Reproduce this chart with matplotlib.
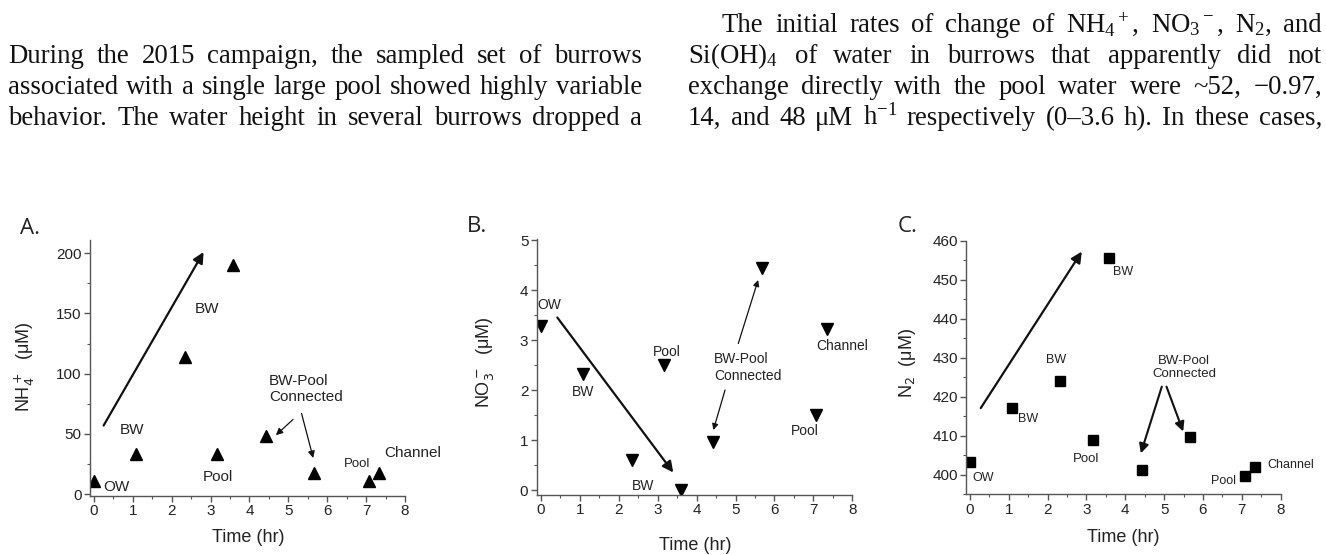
import matplotlib
matplotlib.use("Agg")
import matplotlib.pyplot as plt
from matplotlib.transforms import IdentityTransform
from matplotlib.ticker import MultipleLocator

plt.rcParams['mathtext.fontset'] = 'custom'
plt.rcParams['mathtext.rm'] = 'Liberation Serif'
plt.rcParams['mathtext.it'] = 'Liberation Serif:italic'
plt.rcParams['mathtext.bf'] = 'Liberation Serif:bold'

# ---------------- data ----------------
time_hr = [0.0, 1.08, 2.33, 3.17, 3.59, 4.42, 5.67, 7.08, 7.34]
nh4_uM = [11, 33, 114, 33, 190, 48, 18, 11, 18]
no3_uM = [3.28, 2.33, 0.61, 2.50, 0.0, 0.97, 4.45, 1.51, 3.23]
n2_uM = [403.2, 417.0, 424.0, 408.9, 455.5, 401.3, 409.6, 399.6, 402.1]
x_ticks = [0, 1, 2, 3, 4, 5, 6, 7, 8]
nh4_ticks = [0, 50, 100, 150, 200]
no3_ticks = [0, 1, 2, 3, 4, 5]
n2_ticks = [400, 410, 420, 430, 440, 450, 460]

left_lines = [
    "During the 2015 campaign, the sampled set of burrows",
    "associated with a single large pool showed highly variable",
    "behavior. The water height in several burrows dropped a",
]
right_lines = [
    "The initial rates of change of NH$_4$$^+$, NO$_3$$^-$, N$_2$, and",
    "Si(OH)$_4$ of water in burrows that apparently did not",
    "exchange directly with the pool water were ~52, \u22120.97,",
    "14, and 48 \u03bcM h$^{-1}$ respectively (0\u20133.6 h). In these cases,",
]

W, H = 1326, 555
fig = plt.figure(figsize=(W / 100, H / 100), dpi=100)
fig.patch.set_facecolor('white')
renderer = fig.canvas.get_renderer()

def fx(x):
    return x / W

def fy(y):
    return 1 - y / H

# ---------------- justified body text ----------------
def words_of(line):
    return line.split(' ')

def measure(word, fs):
    t = fig.text(0, 0, word, fontsize=fs, family='Liberation Serif',
                 math_fontfamily='custom', transform=IdentityTransform())
    w = t.get_window_extent(renderer).width
    t.remove()
    return w

base_fs = 18.0
space_em = 0.25
col_w = 634
natural = []
for ln, ind in [(l, 0) for l in left_lines] + [(r, 34 if i == 0 else 0) for i, r in enumerate(right_lines)]:
    ws = words_of(ln)
    tot = sum(measure(w, base_fs) for w in ws) + (len(ws) - 1) * space_em * base_fs * 100 / 72
    natural.append(tot / (col_w - ind))
fs_body = base_fs / max(natural) * 0.985

def justify(lines, x0, x1, baselines, indent_first=0):
    for i, (ln, yb) in enumerate(zip(lines, baselines)):
        ws = words_of(ln)
        start = x0 + (indent_first if i == 0 else 0)
        widths = [measure(w, fs_body) for w in ws]
        gap = (x1 - start - sum(widths)) / (len(ws) - 1)
        x = start
        for w, wd in zip(ws, widths):
            fig.text(x, H - yb, w, fontsize=fs_body, family='Liberation Serif',
                     math_fontfamily='custom', transform=IdentityTransform(),
                     va='baseline', ha='left', color='#111111')
            x += wd + gap

justify(left_lines, 8, 642, [63, 94, 125])
justify(right_lines, 688, 1322, [32, 63, 94, 125], indent_first=34)

# ---------------- panels ----------------
spine_col = '#555555'
txt_col = '#222222'
sans = 'Liberation Sans'

def make_axes(left, right, top, bottom):
    ax = fig.add_axes([fx(left), fy(bottom), fx(right - left), (bottom - top) / H])
    ax.spines['top'].set_visible(False)
    ax.spines['right'].set_visible(False)
    for s in ('left', 'bottom'):
        ax.spines[s].set_color(spine_col)
        ax.spines[s].set_linewidth(1.0)
    ax.tick_params(which='major', direction='out', length=4, width=1, color=spine_col,
                   labelcolor=txt_col, labelsize=11, pad=2)
    ax.tick_params(which='minor', direction='out', length=2.5, width=0.8, color=spine_col)
    for lab in ax.get_xticklabels() + ax.get_yticklabels():
        lab.set_family(sans)
    ax.patch.set_alpha(0)
    return ax

def set_ticks(ax, xt, yt, yminor):
    ax.set_xticks(xt)
    ax.set_xticklabels([str(v) for v in xt], family=sans)
    ax.set_yticks(yt)
    ax.set_yticklabels([str(v) for v in yt], family=sans)
    ax.xaxis.set_minor_locator(MultipleLocator(0.5))
    ax.yaxis.set_minor_locator(MultipleLocator(yminor))

def label(ax, x, y, s, size=11, ha='center', ma='center'):
    ax.text(x, y, s, fontsize=size, family=sans, ha=ha, va='center', color=txt_col,
            multialignment=ma)

def arrow(ax, x0, y0, x1, y1, lw=1.6, ms=16):
    ax.annotate('', xy=(x1, y1), xytext=(x0, y0),
                arrowprops=dict(arrowstyle='-|>', lw=lw, color='#111111',
                                mutation_scale=ms, shrinkA=0, shrinkB=0))

# Panel A
axA = make_axes(90, 405, 240, 496)
axA.plot(time_hr, nh4_uM, linestyle='none', marker='^', ms=9, color='black')
axA.set_xlim(-0.1, 8.0)
axA.set_ylim(-1.5, 211)
set_ticks(axA, x_ticks, nh4_ticks, 25)
arrow(axA, 0.25, 57, 2.82, 201)
arrow(axA, 5.12, 62, 4.68, 49, lw=0.9, ms=10)
arrow(axA, 5.34, 67, 5.64, 30, lw=0.9, ms=10)
label(axA, 0.99, 53, 'BW')
label(axA, 0.58, 6, 'OW')
label(axA, 2.9, 154, 'BW')
label(axA, 3.18, 14, 'Pool')
label(axA, 4.5, 87, 'BW-Pool\nConnected', ha='left', ma='left')
label(axA, 6.77, 25, 'Pool', size=9.5)
label(axA, 8.21, 34, 'Channel')

# Panel B
axB = make_axes(536.7, 852.3, 239, 495)
axB.plot(time_hr, no3_uM, linestyle='none', marker='v', ms=9, color='black')
axB.set_xlim(-0.11, 8.0)
axB.set_ylim(-0.1, 5.02)
set_ticks(axB, x_ticks, no3_ticks, 0.5)
arrow(axB, 0.42, 3.45, 3.4, 0.35)
arrow(axB, 5.07, 2.93, 5.58, 4.2, lw=0.9, ms=9)
arrow(axB, 4.73, 2.0, 4.43, 1.2, lw=0.9, ms=9)
label(axB, 0.21, 3.7, 'OW', size=10)
label(axB, 1.07, 1.95, 'BW', size=10)
label(axB, 3.23, 2.77, 'Pool', size=10)
label(axB, 2.63, 0.07, 'BW', size=10)
label(axB, 4.45, 2.45, 'BW-Pool\nConnected', size=10, ha='left', ma='left')
label(axB, 7.73, 2.87, 'Channel', size=10)
label(axB, 6.77, 1.18, 'Pool', size=10)

# Panel C
axC = make_axes(966, 1280.7, 240.7, 494.3)
axC.plot(time_hr, n2_uM, linestyle='none', marker='s', ms=7, color='black')
axC.set_xlim(-0.1, 8.0)
axC.set_ylim(395, 460)
set_ticks(axC, x_ticks, n2_ticks, 5)
arrow(axC, 0.28, 417.1, 2.88, 457.2)
arrow(axC, 4.94, 422.6, 4.40, 405.5, lw=1.5, ms=14)
arrow(axC, 5.06, 422.6, 5.49, 411.1, lw=1.5, ms=14)
label(axC, 0.33, 399.1, 'OW', size=9)
label(axC, 1.5, 414.2, 'BW', size=9)
label(axC, 2.23, 429.3, 'BW', size=9)
label(axC, 3.0, 404.0, 'Pool', size=9.5)
label(axC, 3.93, 451.9, 'BW', size=9)
label(axC, 5.52, 427.5, 'BW-Pool\nConnected', size=9.5)
label(axC, 6.54, 398.5, 'Pool', size=9)
label(axC, 8.27, 402.4, 'Channel', size=9)

# axis titles and panel letters (pixel placement)
def ftext(x, y, s, **kw):
    fig.text(fx(x), fy(y), s, ha='center', va='center', color=txt_col, **kw)

ftext(25, 367, 'NH$_4^+$  (\u03bcM)', rotation=90, fontsize=13, family=sans, math_fontfamily='dejavusans')
ftext(485, 362, 'NO$_3^-$  (\u03bcM)', rotation=90, fontsize=13, family=sans, math_fontfamily='dejavusans')
ftext(908, 363, 'N$_2$  (\u03bcM)', rotation=90, fontsize=13, family=sans, math_fontfamily='dejavusans')
ftext(248, 537, 'Time (hr)', fontsize=13, family=sans)
ftext(695, 545, 'Time (hr)', fontsize=13, family=sans)
ftext(1123, 537, 'Time (hr)', fontsize=13, family=sans)
ftext(30, 228, 'A.', fontsize=16, family='Open Sans')
ftext(477, 227, 'B.', fontsize=16, family='Open Sans')
ftext(908, 227, 'C.', fontsize=16, family='Open Sans')

fig.savefig('out.png', dpi=100, facecolor='white')
